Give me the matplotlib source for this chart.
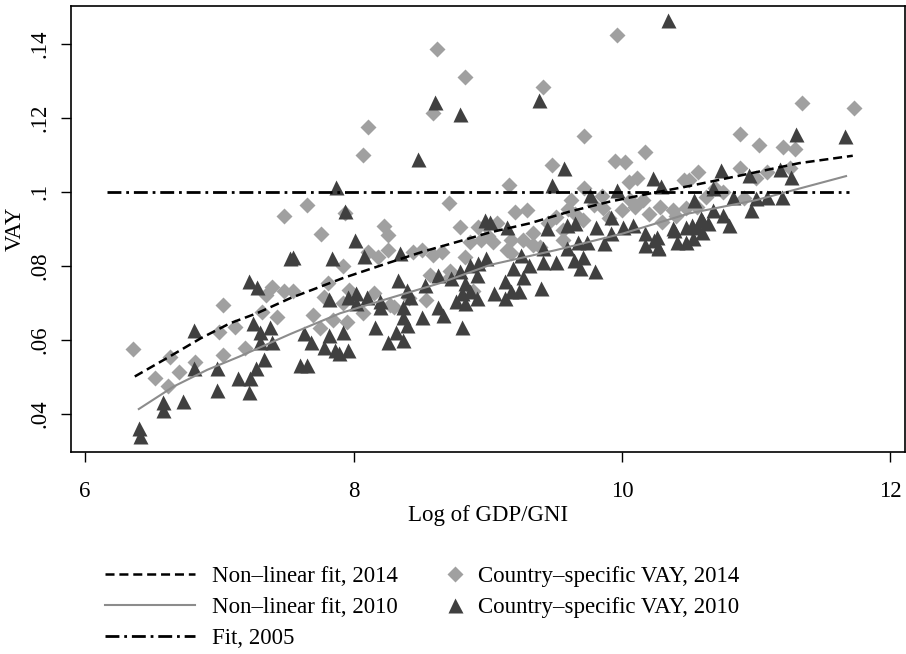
"""VAY against log GDP/GNI: country points for 2014 and 2010, two non-linear fits and the 2005 level."""
import matplotlib
matplotlib.use('Agg')
import matplotlib.pyplot as plt
from matplotlib.lines import Line2D

plt.rcParams['font.family'] = ['Liberation Serif', 'DejaVu Serif']
plt.rcParams['font.size'] = 16.5
plt.rcParams['lines.scale_dashes'] = False

# ---- data ----
# country-specific VAY, 2014 (diamonds)
x_2014 = [6.36, 7.48, 7.03, 6.63, 6.52, 6.70, 6.62, 6.82, 7.00, 7.12, 7.03, 7.19,
          7.32, 7.43, 7.39, 7.35, 7.48,
          8.07, 7.65, 8.71, 7.94, 7.76, 8.23, 8.26, 8.79, 7.92, 7.55, 7.81, 8.11,
          8.18, 8.26, 8.44, 8.51, 8.59, 8.66, 8.87, 8.95, 8.83, 7.97, 8.15, 7.78,
          7.70, 7.75, 7.85, 7.95, 8.07, 8.27, 8.54, 8.57, 8.41, 8.72, 8.89, 7.92,
          8.30, 8.72,
          9.72, 9.48, 9.95, 10.02, 10.17, 9.16, 10.46, 10.11, 10.05, 9.62, 9.72,
          9.20, 9.29, 9.51, 9.79, 9.86, 10.16, 10.28, 10.38, 10.48, 9.07, 9.34,
          9.26, 9.17, 9.04, 9.56, 9.71, 10.00, 10.06, 9.39, 9.17, 9.56, 8.98,
          9.34, 9.14,
          8.11, 8.62, 8.83, 8.59, 9.96, 9.41,
          11.34, 11.73, 10.88, 11.02, 11.20, 11.29, 10.57, 10.88, 11.08, 11.25,
          11.00, 10.69, 10.75, 10.91, 10.63, 10.56, 10.50,
          9.45, 9.65, 9.90, 10.20, 10.30, 10.40, 9.60, 9.85, 10.10, 9.00, 8.93]
y_2014 = [0.0575, 0.0935, 0.0695, 0.0555, 0.0498, 0.0514, 0.0476, 0.0541, 0.0620,
          0.0636, 0.0559, 0.0577, 0.0676, 0.0661, 0.0744, 0.0722, 0.0731,
          0.1100, 0.0965, 0.0971, 0.0942, 0.0886, 0.0908, 0.0884, 0.0905, 0.0800,
          0.0731, 0.0755, 0.0839, 0.0825, 0.0843, 0.0839, 0.0843, 0.0830, 0.0839,
          0.0866, 0.0870, 0.0825, 0.0735, 0.0726, 0.0717, 0.0668, 0.0632, 0.0654,
          0.0649, 0.0672, 0.0695, 0.0708, 0.0776, 0.0713, 0.0771, 0.0731, 0.0699,
          0.0690, 0.0785,
          0.1152, 0.1073, 0.1084, 0.1082, 0.1107, 0.1019, 0.1032, 0.1037, 0.1028,
          0.0978, 0.1010, 0.0947, 0.0951, 0.0933, 0.0965, 0.0956, 0.0978, 0.0960,
          0.0951, 0.0956, 0.0915, 0.0888, 0.0870, 0.0870, 0.0866, 0.0897, 0.0924,
          0.0951, 0.0978, 0.0852, 0.0834, 0.0870, 0.0911, 0.0857, 0.0843,
          0.1177, 0.1386, 0.1310, 0.1213, 0.1425, 0.1285,
          0.1240, 0.1226, 0.1157, 0.1127, 0.1123, 0.1115, 0.1055, 0.1064, 0.1055,
          0.1064, 0.1037, 0.1010, 0.1001, 0.0983, 0.0987, 0.0960, 0.1032,
          0.0915, 0.0940, 0.0930, 0.0940, 0.0920, 0.0935, 0.0955, 0.0990, 0.0960,
          0.0880, 0.0905]

# country-specific VAY, 2010 (triangles)
x_2010 = [6.40, 6.41, 6.58, 6.58, 6.73, 6.81, 6.81, 6.98, 6.98, 7.14, 7.22, 7.23,
          7.27, 7.33, 7.22, 7.28, 7.25, 7.30, 7.38, 7.39, 7.30, 7.53,
          8.48, 7.87, 7.94, 8.01, 7.55, 7.84, 8.08, 8.35, 8.98, 8.33, 8.40, 8.42,
          8.53, 8.63, 8.73, 8.79, 8.87, 8.93, 8.99, 8.92, 8.83, 8.81, 8.87, 8.92,
          8.76, 8.83, 8.63, 8.67, 7.82, 7.96, 8.02, 8.02, 8.10, 8.20, 8.20, 8.37,
          8.37, 8.40, 8.51, 8.16, 8.32, 8.26, 8.37, 8.81, 7.92, 7.82, 7.63, 7.68,
          7.78, 7.86, 7.96, 7.89, 7.60, 7.65,
          9.57, 9.48, 10.23, 10.29, 9.96, 9.76, 9.02, 9.14, 9.44, 9.59, 9.65, 9.81,
          9.92, 10.01, 10.08, 10.17, 10.26, 10.38, 10.48, 10.17, 10.27, 10.41,
          10.48, 9.87, 9.92, 9.67, 9.74, 9.59, 9.71, 9.64, 9.69, 9.80, 9.41, 9.41,
          9.51, 9.25, 9.31, 9.19, 9.26, 9.13, 9.17, 9.05, 9.23, 9.40, 9.13,
          8.61, 8.79, 9.38, 10.34,
          11.30, 11.66, 10.74, 10.95, 11.18, 11.26, 10.68, 10.54, 10.83, 11.00,
          11.08, 11.19, 10.96, 10.68, 10.75, 10.80, 10.60, 10.64, 10.56, 10.60,
          10.53, 10.24, 10.27, 10.39, 10.52, 10.59]
y_2010 = [0.0361, 0.0339, 0.0433, 0.0411, 0.0436, 0.0627, 0.0523, 0.0523, 0.0465,
          0.0496, 0.0459, 0.0496, 0.0523, 0.0548, 0.0758, 0.0744, 0.0645, 0.0622,
          0.0636, 0.0595, 0.0595, 0.0821,
          0.1088, 0.1013, 0.0949, 0.0870, 0.0825, 0.0822, 0.0827, 0.0836, 0.0924,
          0.0762, 0.0735, 0.0717, 0.0749, 0.0776, 0.0767, 0.0785, 0.0803, 0.0807,
          0.0821, 0.0776, 0.0753, 0.0726, 0.0731, 0.0713, 0.0704, 0.0699, 0.0690,
          0.0668, 0.0710, 0.0717, 0.0726, 0.0699, 0.0717, 0.0704, 0.0690, 0.0690,
          0.0663, 0.0641, 0.0663, 0.0636, 0.0622, 0.0595, 0.0600, 0.0636, 0.0622,
          0.0614, 0.0618, 0.0595, 0.0582, 0.0573, 0.0573, 0.0564, 0.0532, 0.0532,
          0.1064, 0.1019, 0.1037, 0.1016, 0.1005, 0.0992, 0.0920, 0.0906, 0.0902,
          0.0911, 0.0915, 0.0906, 0.0933, 0.0906, 0.0911, 0.0888, 0.0879, 0.0902,
          0.0906, 0.0857, 0.0852, 0.0866, 0.0866, 0.0861, 0.0888, 0.0866, 0.0866,
          0.0848, 0.0825, 0.0816, 0.0794, 0.0785, 0.0848, 0.0812, 0.0812, 0.0830,
          0.0803, 0.0794, 0.0771, 0.0758, 0.0731, 0.0728, 0.0731, 0.0740, 0.0713,
          0.1244, 0.1210, 0.1250, 0.1465,
          0.1156, 0.1151, 0.1059, 0.1046, 0.1061, 0.1041, 0.1010, 0.0978, 0.0986,
          0.0983, 0.0986, 0.0987, 0.0950, 0.0951, 0.0938, 0.0911, 0.0924, 0.0915,
          0.0906, 0.0893, 0.0875, 0.0870, 0.0848, 0.0897, 0.0911, 0.0929]

# non-linear fit 2014 (dashed)
fit14_x = [6.37, 6.63, 6.86, 7.08, 7.28, 7.53, 7.92, 8.25, 8.52, 8.82, 9.02,
           9.31, 9.61, 9.91, 10.21, 10.50, 10.90, 11.32, 11.72]
fit14_y = [0.0501, 0.0555, 0.0604, 0.0645, 0.0672, 0.0713, 0.0767, 0.0807,
           0.0839, 0.0870, 0.0891, 0.0915, 0.0947, 0.0974, 0.0996, 0.1016,
           0.1046, 0.1078, 0.1098]
# non-linear fit 2010 (solid grey)
fit10_x = [6.40, 6.66, 6.91, 7.15, 7.53, 7.90, 8.27, 8.64, 9.02, 9.51, 10.01,
           10.50, 11.00, 11.67]
fit10_y = [0.0413, 0.0474, 0.0519, 0.0555, 0.0616, 0.0672, 0.0713, 0.0753,
           0.0803, 0.0843, 0.0888, 0.0942, 0.0978, 0.1043]
# fit 2005 (flat)
fit05_x = [6.16, 11.69]
fit05_y = [0.1, 0.1]

xticks = [6, 8, 10, 12]
yticks = [0.04, 0.06, 0.08, 0.10, 0.12, 0.14]
yticklabels = ['.04', '.06', '.08', '.1', '.12', '.14']

# ---- plot ----
fig = plt.figure(figsize=(9.06, 6.54), dpi=100)
ax = fig.add_axes([0.0784, 0.309, 0.9206, 0.6818])

c_dia = '#a0a0a0'
c_tri = '#404040'
c_sol = '#8c8c8c'

ax.plot(x_2014, y_2014, linestyle='none', marker='D', ms=8.2, color=c_dia,
        mec='none', zorder=2)
ax.plot(x_2010, y_2010, linestyle='none', marker='^', ms=10.8, color=c_tri,
        mec='none', zorder=3)

l14, = ax.plot(fit14_x, fit14_y, color='black', lw=1.8, dashes=(6.5, 3.5), zorder=4)
l10, = ax.plot(fit10_x, fit10_y, color=c_sol, lw=1.5, zorder=4)
l05, = ax.plot(fit05_x, fit05_y, color='black', lw=2.0,
               dashes=(10, 3.5, 2, 3.5), zorder=4)

ax.set_xlim(5.895, 12.11)
ax.set_ylim(0.0297, 0.1503)
ax.set_xticks(xticks)
ax.set_xticklabels([str(t) for t in xticks])
ax.set_yticks(yticks)
ax.set_yticklabels(yticklabels, rotation=90, va='center')
ax.tick_params(direction='out', length=7, width=1)
ax.tick_params(axis='x', pad=14)
ax.tick_params(axis='y', pad=8)
for s in ax.spines.values():
    s.set_linewidth(1.2)
ax.set_xlabel('Log of GDP/GNI', labelpad=2)
ax.set_ylabel('VAY')
ax.yaxis.set_label_coords(-0.054, 0.5)

# legend: two blocks so that the marker keys sit close to their text
leg1 = fig.legend([l14, l10, l05],
                  ['Non\u2013linear fit, 2014', 'Non\u2013linear fit, 2010', 'Fit, 2005'],
                  loc='upper left', bbox_to_anchor=(0.116, 0.134), frameon=False,
                  handlelength=3.93, handletextpad=0.74, labelspacing=0.43,
                  borderaxespad=0, borderpad=0)
h_dia = Line2D([], [], linestyle='none', marker='D', ms=8.2, color=c_dia, mec='none')
h_tri = Line2D([], [], linestyle='none', marker='^', ms=10.8, color=c_tri, mec='none')
leg2 = fig.legend([h_dia, h_tri],
                  ['Country\u2013specific VAY, 2014', 'Country\u2013specific VAY, 2010'],
                  loc='upper left', bbox_to_anchor=(0.4895, 0.134), frameon=False,
                  handlelength=1.0, handletextpad=0.5, labelspacing=0.43,
                  borderaxespad=0, borderpad=0)

fig.savefig('out.png', dpi=100)
